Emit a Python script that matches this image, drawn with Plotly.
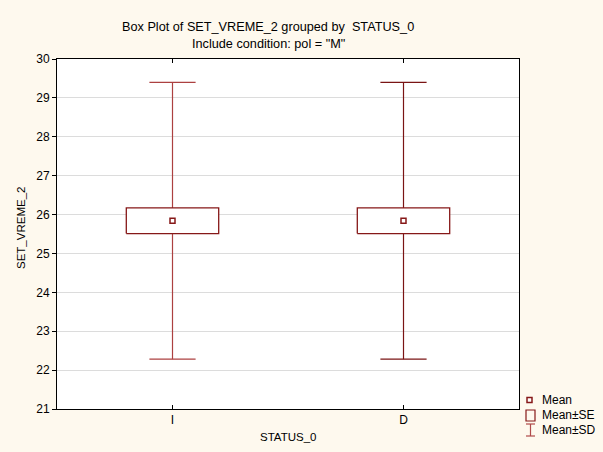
import plotly.graph_objects as go

# Group statistics for SET_VREME_2 by STATUS_0 (pol = "M")
groups = ["I", "D"]
means = [25.84, 25.84]
se_low = [25.51, 25.51]
se_high = [26.17, 26.17]
sd_low = [22.28, 22.28]
sd_high = [29.40, 29.40]

y_ticks = [21, 22, 23, 24, 25, 26, 27, 28, 29, 30]

BOX_RED = "#861818"
WHISKER_RED = ["#AC4040", "#7A1414"]
PAPER = "#FEF9EE"
FONT = "Liberation Sans, Arial, sans-serif"

box_half = 0.2
cap_half = 0.1

fig = go.Figure()

for i, g in enumerate(groups):
    # whisker (Mean ± SD) with caps
    fig.add_trace(go.Scatter(
        x=[i, i, None, i, i, None, i - cap_half, i + cap_half, None, i - cap_half, i + cap_half],
        y=[sd_low[i], se_low[i], None, se_high[i], sd_high[i], None,
           sd_low[i], sd_low[i], None, sd_high[i], sd_high[i]],
        mode="lines", line=dict(color=WHISKER_RED[i], width=1.2),
        hoverinfo="skip", showlegend=False))
    # box (Mean ± SE)
    fig.add_trace(go.Scatter(
        x=[i - box_half, i + box_half, i + box_half, i - box_half, i - box_half],
        y=[se_low[i], se_low[i], se_high[i], se_high[i], se_low[i]],
        mode="lines", fill="toself", fillcolor="white",
        line=dict(color=BOX_RED, width=1.3),
        hoverinfo="skip", showlegend=False))
    # mean marker
    fig.add_trace(go.Scatter(
        x=[i], y=[means[i]], mode="markers",
        marker=dict(symbol="square", size=5, color="white",
                    line=dict(color=BOX_RED, width=1.5)),
        hoverinfo="skip", showlegend=False))

fig.update_layout(
    width=603, height=452,
    margin=dict(l=57, r=84, t=59, b=43),
    paper_bgcolor=PAPER, plot_bgcolor="white",
    font=dict(family=FONT, size=12, color="black"),
    showlegend=False,
    xaxis=dict(
        range=[-0.5, 1.5], tickvals=[0, 1], ticktext=groups,
        ticks="inside", ticklen=4, tickcolor="black", tickwidth=1,
        showgrid=False, zeroline=False,
        showline=True, linecolor="black", linewidth=1, mirror="ticks",
        tickfont=dict(size=12), fixedrange=True),
    yaxis=dict(
        range=[21, 30], tickvals=y_ticks,
        ticks="outside", ticklen=4, tickcolor="black", tickwidth=1,
        showgrid=True, gridcolor="#DCDCDC", gridwidth=1, zeroline=False,
        showline=True, linecolor="black", linewidth=1, mirror=True,
        tickfont=dict(size=12), fixedrange=True),
)

# titles
fig.add_annotation(text="Box Plot of SET_VREME_2 grouped by  STATUS_0",
                   xref="paper", yref="paper", x=(268 - 57) / 462, y=1 + (59 - 27) / 350,
                   showarrow=False, xanchor="center", yanchor="middle", font=dict(size=12.7))
fig.add_annotation(text='Include condition: pol = "M"',
                   xref="paper", yref="paper", x=(268 - 57) / 462, y=1 + (59 - 44) / 350,
                   showarrow=False, xanchor="center", yanchor="middle", font=dict(size=12.7))
fig.add_annotation(text="SET_VREME_2", textangle=-90,
                   xref="paper", yref="paper", x=(21 - 57) / 462, y=1 - (228 - 59) / 350,
                   showarrow=False, xanchor="center", yanchor="middle", font=dict(size=11.5))
fig.add_annotation(text="STATUS_0",
                   xref="paper", yref="paper", x=(288 - 57) / 462, y=1 - (437 - 59) / 350,
                   showarrow=False, xanchor="center", yanchor="middle", font=dict(size=11.5))

# legend drawn in pixel-based paper coordinates
def px(xp):
    return (xp - 57) / 462

def py(yp):
    return 1 - (yp - 59) / 350

legend_items = ["Mean", "Mean\u00b1SE", "Mean\u00b1SD"]
legend_y = [400, 415, 430]
for label, ly in zip(legend_items, legend_y):
    fig.add_annotation(text=label, xref="paper", yref="paper", x=px(540), y=py(ly),
                       showarrow=False, xanchor="left", yanchor="middle", font=dict(size=12))

# Mean: small square
fig.add_shape(type="rect", xref="paper", yref="paper",
              x0=px(527), x1=px(532), y0=py(402.5), y1=py(397.5),
              line=dict(color=BOX_RED, width=1.5), fillcolor="white")
# Mean±SE: larger rectangle
fig.add_shape(type="rect", xref="paper", yref="paper",
              x0=px(526), x1=px(535), y0=py(421), y1=py(410),
              line=dict(color=BOX_RED, width=1.2), fillcolor=PAPER)
# Mean±SD: I-beam
fig.add_shape(type="line", xref="paper", yref="paper",
              x0=px(530.5), x1=px(530.5), y0=py(436), y1=py(424),
              line=dict(color="#B04A4A", width=1.2))
fig.add_shape(type="line", xref="paper", yref="paper",
              x0=px(526), x1=px(535), y0=py(424), y1=py(424),
              line=dict(color="#B04A4A", width=1.2))
fig.add_shape(type="line", xref="paper", yref="paper",
              x0=px(526), x1=px(535), y0=py(436), y1=py(436),
              line=dict(color="#B04A4A", width=1.2))

fig.write_html("out.html")
